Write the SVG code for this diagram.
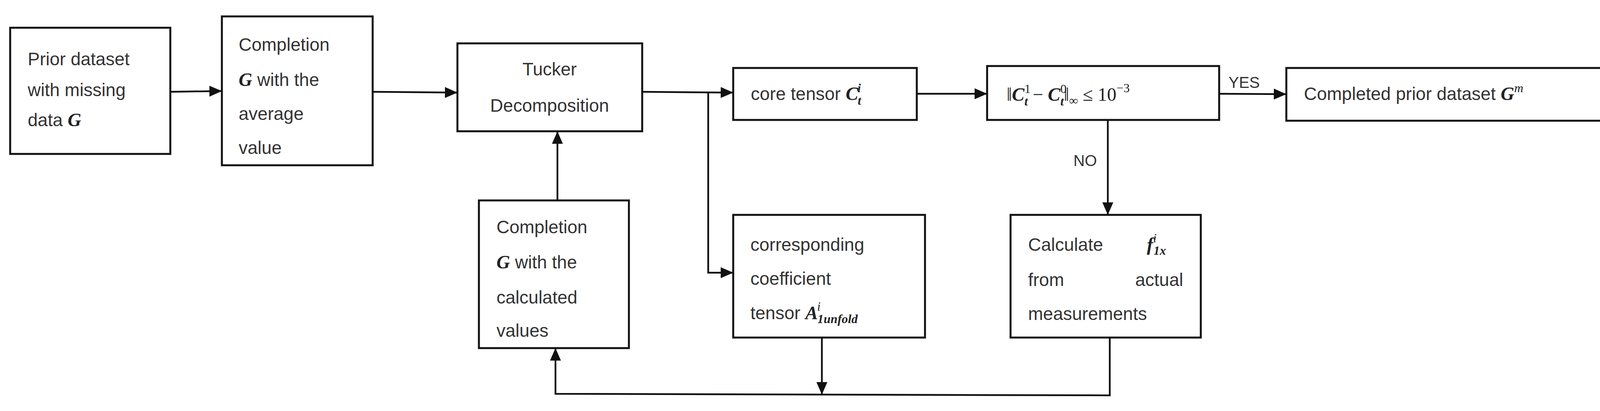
<svg xmlns="http://www.w3.org/2000/svg" width="4144" height="1052" viewBox="0 0 4144 1052">
<style>
.b{fill:#fff;stroke:#111;stroke-width:5}
.t{font-family:"Liberation Sans",Arial,sans-serif;font-size:46px;fill:#333}
.m{font-family:"Liberation Serif","Times New Roman",serif;font-weight:bold;font-style:italic;font-size:48px;fill:#222}
.n{font-family:"Liberation Serif","Times New Roman",serif;font-size:48px;fill:#222}
.s{font-size:32px}
.c{fill:none;stroke:#111;stroke-width:4.5}
</style>
<defs>
<marker id="a" markerUnits="userSpaceOnUse" markerWidth="32" markerHeight="28" refX="30" refY="14" orient="auto"><path d="M0,0 L32,14 L0,28 Z" fill="#111"/></marker>
</defs>
<rect width="4144" height="1052" fill="#fff"/>
<g id="connectors">
<path class="c" d="M436,235 L566,233" marker-end="url(#a)"/>
<path class="c" d="M954,235 L1169,237" marker-end="url(#a)"/>
<path class="c" d="M1644,235 L1875,237" marker-end="url(#a)"/>
<path class="c" d="M1813,235 L1813,698 L1875,698" marker-end="url(#a)"/>
<path class="c" d="M2347,240 L2525,240" marker-end="url(#a)"/>
<path class="c" d="M3121,240 L3291,241" marker-end="url(#a)"/>
<path class="c" d="M2836,307 L2836,548" marker-end="url(#a)"/>
<path class="c" d="M1427,513 L1427,338" marker-end="url(#a)"/>
<path class="c" d="M2104,854 L2104,1008" marker-end="url(#a)"/>
<path class="c" d="M2841,864 L2841,1012 L1422,1008 L1422,893" marker-end="url(#a)"/>
<text class="t" x="3145" y="225" style="font-size:40px">YES</text>
<text class="t" x="2748" y="425" style="font-size:40px">NO</text>
</g>
<g id="prior">
<rect class="b" x="26" y="71" width="410" height="323"/>
<text class="t" x="71" y="167">Prior dataset</text>
<text class="t" x="71" y="246">with  missing</text>
<text class="t" x="71" y="323">data  <tspan class="m">G</tspan></text>
</g>
<g id="avg">
<rect class="b" x="568" y="42" width="386" height="381"/>
<text class="t" x="611" y="130">Completion</text>
<text class="t" x="611" y="220"><tspan class="m">G</tspan>  with  the</text>
<text class="t" x="611" y="307">average</text>
<text class="t" x="611" y="394">value</text>
</g>
<g id="tucker">
<rect class="b" x="1171" y="111" width="473" height="225"/>
<text class="t" x="1407" y="193" text-anchor="middle">Tucker</text>
<text class="t" x="1407" y="286" text-anchor="middle">Decomposition</text>
</g>
<g id="calc-completion">
<rect class="b" x="1226" y="513" width="384" height="378"/>
<text class="t" x="1271" y="597">Completion</text>
<text class="t" x="1271" y="687"><tspan class="m">G</tspan>  with  the</text>
<text class="t" x="1271" y="777">calculated</text>
<text class="t" x="1271" y="862">values</text>
</g>
<g id="core">
<rect class="b" x="1877" y="174" width="470" height="133"/>
<text class="t" x="1922" y="256">core tensor  <tspan class="m">C</tspan><tspan class="m s" dx="-2" dy="-20">i</tspan><tspan class="m s" dx="-8" dy="32">t</tspan></text>
</g>
<g id="norm">
<rect class="b" x="2527" y="169" width="594" height="138"/>
<text class="n" x="2577" y="258">‖<tspan class="m">C</tspan><tspan class="n s" dy="-20">1</tspan><tspan class="m s" dx="-16" dy="32">t</tspan><tspan dy="-12"> − </tspan><tspan class="m">C</tspan><tspan class="n s" dy="-20">0</tspan><tspan class="m s" dx="-16" dy="32">t</tspan><tspan dy="-12">‖</tspan><tspan class="s" dy="10">∞</tspan><tspan dy="-10"> ≤ 10</tspan><tspan class="s" dy="-22">−3</tspan></text>
</g>
<g id="completed">
<rect class="b" x="3293" y="174" width="820" height="135"/>
<text class="t" x="3338" y="256">Completed prior dataset  <tspan class="m">G</tspan><tspan class="m s" dy="-20" style="font-weight:normal">m</tspan></text>
</g>
<g id="coef">
<rect class="b" x="1877" y="550" width="491" height="314"/>
<text class="t" x="1921" y="642">corresponding</text>
<text class="t" x="1921" y="729">coefficient</text>
<text class="t" x="1921" y="817">tensor  <tspan class="m">A</tspan><tspan class="m s" dx="-2" dy="-22" style="font-weight:normal">i</tspan><tspan class="m s" dx="-8" dy="32">1unfold</tspan></text>
</g>
<g id="calc">
<rect class="b" x="2587" y="550" width="487" height="314"/>
<text class="t" x="2632" y="642">Calculate</text>
<text class="m" x="2936" y="642">f<tspan class="m s" dy="-22" style="font-weight:normal">i</tspan><tspan class="m s" dx="-8" dy="32">1x</tspan></text>
<text class="t" x="2632" y="732">from</text>
<text class="t" x="3029" y="732" text-anchor="end">actual</text>
<text class="t" x="2632" y="819">measurements</text>
</g>
</svg>
